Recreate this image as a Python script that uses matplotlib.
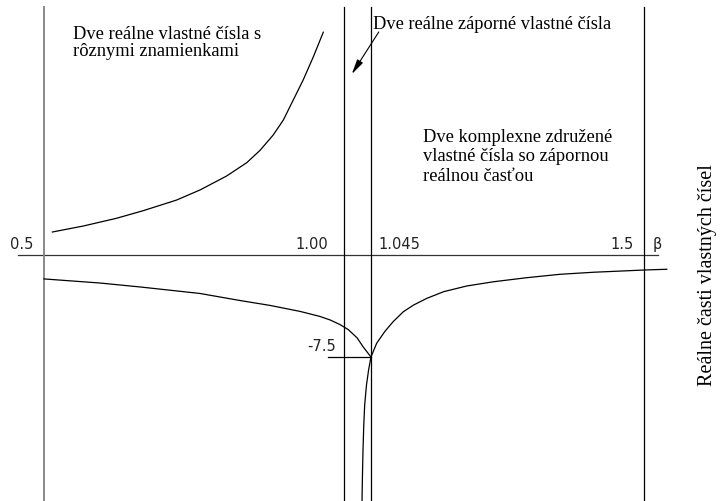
# Eigenvalue real parts vs. beta - schematic stability diagram
import numpy as np
import matplotlib
matplotlib.use('Agg')
import matplotlib.pyplot as plt

# region boundaries on the beta axis
BOUNDS = [0.5, 1.00, 1.045, 1.5]
Y_MARK = -7.5

# upper branch: positive real eigenvalue (left region)
up_b = [0.514, 0.5655, 0.621, 0.6655, 0.721, 0.760, 0.8045, 0.838, 0.860,
        0.882, 0.899, 0.9155, 0.932, 0.949, 0.9655]
up_y = [1.69, 2.13, 2.70, 3.26, 4.04, 4.78, 5.81, 6.79, 7.69,
        8.82, 9.93, 11.40, 12.87, 14.58, 16.38]

# lower branch left of the critical point
lo_b = [0.500, 0.593, 0.660, 0.760, 0.827, 0.877, 0.927, 0.960, 0.977,
        0.993, 1.007, 1.022, 1.032, 1.045]
lo_y = [-1.76, -2.06, -2.35, -2.83, -3.35, -3.71, -4.15, -4.52, -4.78,
        -5.11, -5.48, -6.10, -6.76, -7.50]

# complex pair, real part, right of the critical point
cx_b = [1.045, 1.0545, 1.068, 1.082, 1.099, 1.116, 1.138, 1.166, 1.2045,
        1.249, 1.3045, 1.360, 1.4155, 1.503, 1.538]
cx_y = [-7.50, -6.49, -5.63, -4.90, -4.17, -3.68, -3.19, -2.70, -2.28,
        -1.97, -1.67, -1.42, -1.27, -1.10, -1.05]

# second negative real eigenvalue diving down
dn_b = [1.045, 1.0410, 1.0375, 1.0345, 1.0330, 1.0317, 1.0308, 1.0297]
dn_y = [-7.50, -8.46, -9.56, -11.03, -12.50, -14.34, -16.18, -19.0]

TICKS = ['0.5', '1.00', '1.045', '1.5']

SERIF = 'Liberation Serif'

fig = plt.figure(figsize=(7.2, 5.01), dpi=100, facecolor='white')
ax = fig.add_axes([0, 0, 1, 1])
ax.set_xlim(0.4267, 1.6267)
ax.set_ylim(-18.09, 18.75)
ax.axis('off')

# x axis
ax.plot([0.457, 1.523], [0, 0], color='#333333', lw=0.9)

# vertical region boundaries
for i, b in enumerate(BOUNDS):
    col = '#808080' if i == 0 else 'black'
    ax.plot([b, b], [18.24, -19], color=col, lw=1.3 if i == 0 else 0.9)

lw = 0.9
ax.plot(up_b, up_y, color='black', lw=lw)
ax.plot(lo_b, lo_y, color='black', lw=lw)
ax.plot(cx_b, cx_y, color='black', lw=lw)
ax.plot(dn_b, dn_y, color='black', lw=lw)

# mark at -7.5
ax.plot([0.973, BOUNDS[2]], [Y_MARK, Y_MARK], color='black', lw=0.9)
ax.text(0.987, -6.76, '-7.5', ha='right', va='center', fontsize=10.5, color='#222222')

# tick labels along the beta axis
tick_y = 0.45
ax.text(0.482, tick_y, TICKS[0], ha='right', va='baseline', fontsize=10.5, color='#222222')
ax.text(0.973, tick_y, TICKS[1], ha='right', va='baseline', fontsize=10.5, color='#222222')
ax.text(1.057, tick_y, TICKS[2], ha='left', va='baseline', fontsize=10.5, color='#222222')
ax.text(1.483, tick_y, TICKS[3], ha='right', va='baseline', fontsize=10.5, color='#222222')
ax.text(1.515, tick_y, 'β', ha='left', va='baseline', fontsize=10.5, color='#222222')

# region descriptions
ax.text(0.548, 16.85, 'Dve reálne vlastné čísla s\nrôznymi znamienkami',
        ha='left', va='top', fontsize=13.3, family=SERIF, linespacing=1.02)
ax.text(1.048, 17.6, 'Dve reálne záporné vlastné čísla',
        ha='left', va='top', fontsize=13.2, family=SERIF)
ax.text(1.132, 9.25, 'Dve komplexne združené\nvlastné čísla so zápornou\nreálnou časťou',
        ha='left', va='top', fontsize=13.3, family=SERIF, linespacing=1.17)

ax.annotate('', xy=(1.013, 13.3), xytext=(1.058, 16.4),
            arrowprops=dict(arrowstyle='-|>,head_length=0.9,head_width=0.2',
                            color='black', lw=0.8, shrinkA=0, shrinkB=0))

fig.text(0.983, 0.451, 'Reálne časti vlastných čísel', rotation=90,
         ha='center', va='center', fontsize=14.5, family=SERIF)

plt.savefig('out.png', dpi=100, facecolor='white')
